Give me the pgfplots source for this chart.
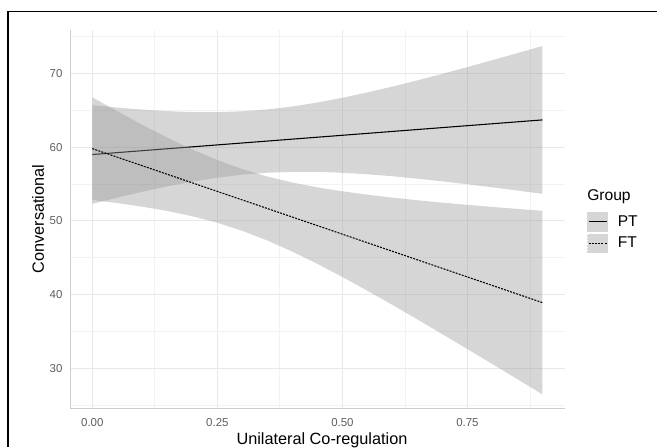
\documentclass[border=0pt]{standalone}
\usepackage{fontspec}
\setmainfont{Liberation Sans}
\usepackage{pgfplots}
\pgfplotsset{compat=1.18}
\definecolor{bandgrey}{RGB}{153,153,153}
\definecolor{keygrey}{RGB}{214,214,214}
\definecolor{gridmaj}{RGB}{232,232,232}
\definecolor{gridmin}{RGB}{242,242,242}
\definecolor{axgrey}{RGB}{205,205,205}
\definecolor{tickgrey}{RGB}{95,95,95}
\begin{document}
\begin{tikzpicture}
\useasboundingbox (-52.5pt,-29.25pt) rectangle (440.25pt,306pt);
\begin{axis}[
  at={(0pt,0pt)}, anchor=south west,
  scale only axis, width=371.25pt, height=283.5pt,
  xmin=-0.0446, xmax=0.945, ymin=24.6, ymax=75.9,
  xtick={0,0.25,0.5,0.75}, xticklabels={0.00,0.25,0.50,0.75},
  ytick={30,40,50,60,70}, yticklabels={30,40,50,60,70},
  minor xtick={0.125,0.375,0.625,0.875},
  minor ytick={25,35,45,55,65,75},
  grid=both,
  major grid style={draw=gridmaj, line width=0.7pt},
  minor grid style={draw=gridmin, line width=0.6pt},
  axis lines*=left,
  axis line style={draw=axgrey, line width=0.7pt, -},
  tick style={draw=none}, major tick length=0pt, minor tick length=0pt,
  xticklabel style={font=\fontsize{8.6}{10}\selectfont, text=tickgrey, inner sep=0pt, anchor=center, yshift=-11.25pt},
  yticklabel style={font=\fontsize{8.6}{10}\selectfont, text=tickgrey, inner sep=0pt, anchor=east, xshift=-5.5pt},
  xlabel={Unilateral Co-regulation},
  ylabel={Conversational},
  xlabel style={font=\fontsize{12.2}{14}\selectfont, at={(axis description cs:0.509,0)}, anchor=base, yshift=-27.5pt, inner sep=0pt},
  ylabel style={font=\fontsize{12.2}{14}\selectfont, at={(axis description cs:0,0.5)}, anchor=center, yshift=24pt, inner sep=0pt},
  legend style={at={(axis description cs:1.0444,0.5185)}, anchor=north west, draw=none, fill=none,
    inner sep=0pt, outer sep=0pt, row sep=1.5pt, font=\fontsize{11.7}{13}\selectfont,
    nodes={inner sep=0pt},
    /tikz/every odd column/.append style={column sep=7.3pt}},
  legend cell align=left,
  legend image code/.code={\fill[keygrey] (0pt,-7pt) rectangle (15pt,7pt); \draw[#1] (0.75pt,0pt) -- (14.25pt,0pt);},
]
% PT confidence band
\addplot[fill=bandgrey, fill opacity=0.4, draw=none, forget plot] coordinates {
(0.00,65.70) (0.05,65.37) (0.10,65.10) (0.15,64.89) (0.20,64.76) (0.25,64.75) (0.30,64.87)
(0.35,65.12) (0.40,65.52) (0.45,66.06) (0.50,66.70) (0.55,67.43) (0.60,68.22) (0.65,69.07)
(0.70,69.95) (0.75,70.87) (0.80,71.81) (0.85,72.76) (0.90,73.73)
(0.90,53.67) (0.85,54.11) (0.80,54.55) (0.75,54.96) (0.70,55.36) (0.65,55.72) (0.60,56.05)
(0.55,56.32) (0.50,56.52) (0.45,56.65) (0.40,56.65) (0.35,56.53) (0.30,56.27) (0.25,55.86)
(0.20,55.33) (0.15,54.68) (0.10,53.95) (0.05,53.15) (0.00,52.30)
} -- cycle;
% PT line
\addplot[black, line width=0.8pt, forget plot] coordinates {(0,59.0) (0.9,63.7)};
% FT confidence band
\addplot[fill=bandgrey, fill opacity=0.4, draw=none, forget plot] coordinates {
(0.00,66.77) (0.05,64.87) (0.10,63.03) (0.15,61.29) (0.20,59.68) (0.25,58.25) (0.30,57.02)
(0.35,56.01) (0.40,55.20) (0.45,54.54) (0.50,54.01) (0.55,53.55) (0.60,53.15) (0.65,52.80)
(0.70,52.47) (0.75,52.17) (0.80,51.89) (0.85,51.62) (0.90,51.36)
(0.90,26.44) (0.85,28.50) (0.80,30.56) (0.75,32.59) (0.70,34.61) (0.65,36.62) (0.60,38.59)
(0.55,40.51) (0.50,42.38) (0.45,44.16) (0.40,45.82) (0.35,47.33) (0.30,48.64) (0.25,49.74)
(0.20,50.63) (0.15,51.34) (0.10,51.92) (0.05,52.41) (0.00,52.83)
} -- cycle;
% FT line
\addplot[black, line width=0.8pt, dash pattern=on 1.5pt off 0.9pt, forget plot] coordinates {(0,59.8) (0.9,38.9)};
\addlegendimage{black, line width=0.8pt}
\addlegendentry{PT}
\addlegendimage{black, line width=0.8pt, dash pattern=on 1.5pt off 0.9pt}
\addlegendentry{FT}
\end{axis}
\node[anchor=west, inner sep=0pt, font=\fontsize{11.7}{13}\selectfont] at (387.75pt,158.25pt) {Group};
\draw[black, line width=0.9pt] (-46.5pt,-29.25pt) -- (-46.5pt,297.4pt) -- (440.25pt,297.4pt);
\end{tikzpicture}
\end{document}
